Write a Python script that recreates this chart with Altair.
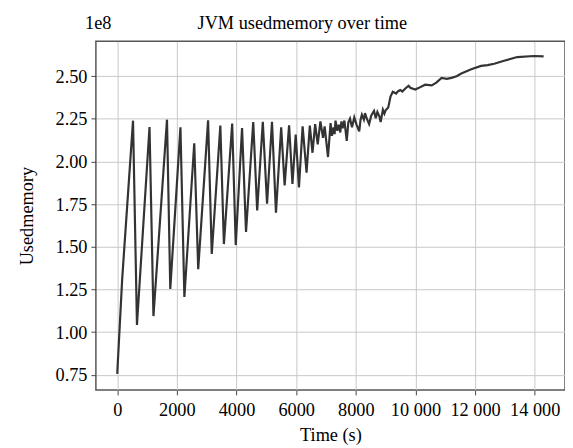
import altair as alt
import pandas as pd

# Time (s) and used memory (in units of 1e8 bytes)
time_s = [0, 166, 530, 662, 1083, 1215, 1669, 1779, 2120, 2252, 2583, 2716, 3047, 3170,
          3458, 3577, 3855, 3974, 4186, 4319, 4561, 4693, 4882, 5024, 5190, 5323, 5498,
          5614, 5763, 5876, 5985, 6094, 6217, 6349, 6458, 6548, 6637, 6723, 6813, 6902,
          6955, 7068, 7154, 7200, 7253, 7290, 7320, 7380, 7432, 7480, 7518, 7560, 7598,
          7618, 7697, 7750, 7806, 7873, 7949, 8028, 8115, 8160, 8204, 8270, 8310, 8360,
          8446, 8520, 8611, 8668, 8724, 8790, 8833, 8909, 8960, 8999, 9088, 9164, 9241,
          9353, 9420, 9496, 9560, 9661, 9771, 9827, 9993, 10100, 10324, 10546, 10700,
          10877, 11050, 11208, 11380, 11539, 11870, 12201, 12420, 12642, 12973, 13414,
          13967, 14298]
used_mem = [0.755, 1.31, 2.239, 1.042, 2.202, 1.094, 2.245, 1.253, 2.200, 1.206, 2.107, 1.369,
            2.241, 1.458, 2.210, 1.516, 2.222, 1.510, 2.196, 1.587, 2.231, 1.713, 2.233, 1.752,
            2.233, 1.700, 2.200, 1.860, 2.212, 1.868, 2.158, 1.848, 2.206, 1.935, 2.210, 2.051,
            2.219, 2.100, 2.235, 2.138, 2.206, 2.026, 2.225, 2.150, 2.200, 2.160, 2.239, 2.180,
            2.215, 2.170, 2.235, 2.195, 2.225, 2.240, 2.120, 2.230, 2.251, 2.200, 2.258, 2.215,
            2.176, 2.245, 2.274, 2.245, 2.283, 2.255, 2.219, 2.270, 2.297, 2.254, 2.290, 2.265,
            2.231, 2.303, 2.280, 2.300, 2.316, 2.380, 2.409, 2.398, 2.412, 2.419, 2.410, 2.428,
            2.444, 2.432, 2.422, 2.430, 2.450, 2.446, 2.462, 2.490, 2.484, 2.490, 2.500, 2.515,
            2.540, 2.560, 2.565, 2.573, 2.590, 2.612, 2.618, 2.616]

x_ticks = [0, 2000, 4000, 6000, 8000, 10000, 12000, 14000]
y_ticks = [0.75, 1.00, 1.25, 1.50, 1.75, 2.00, 2.25, 2.50]

title_text = "JVM usedmemory over time"
offset_text = "1e8"

df = pd.DataFrame({"t": time_s, "m": used_mem})

FONT = "Liberation Serif"

line = alt.Chart(df).mark_line(color="#333333", strokeWidth=2.2).encode(
    x=alt.X("t:Q",
            scale=alt.Scale(domain=[-715, 15015], nice=False, zero=False),
            axis=alt.Axis(values=x_ticks, title="Time (s)",
                          labelExpr="datum.value >= 10000 ? replace(format(datum.value, ','), ',', ' ') : format(datum.value, 'd')",
                          labelPadding=6, titlePadding=7)),
    y=alt.Y("m:Q",
            scale=alt.Scale(domain=[0.661, 2.704], nice=False, zero=False),
            axis=alt.Axis(values=y_ticks, format=".2f", title="Usedmemory",
                          labelPadding=4, titlePadding=19)),
)

title = alt.Chart(pd.DataFrame({"s": [title_text]})).mark_text(
    font=FONT, fontSize=18.5, color="black", align="center", baseline="alphabetic"
).encode(text="s:N", x=alt.value(209), y=alt.value(-13))

offset = alt.Chart(pd.DataFrame({"s": [offset_text]})).mark_text(
    font=FONT, fontSize=18.5, color="black", align="left", baseline="alphabetic"
).encode(text="s:N", x=alt.value(-11), y=alt.value(-13))

chart = alt.layer(line, title, offset).properties(
    width=475, height=353,
    autosize=alt.AutoSizeParams(type="none"),
    padding={"left": 89, "top": 31, "right": 0, "bottom": 56},
    background="white",
).configure_view(
    stroke="#555555", strokeWidth=1.5
).configure_axis(
    labelFont=FONT, titleFont=FONT, labelFontSize=18.5, titleFontSize=18.5,
    labelColor="black", titleColor="black", titleFontWeight="normal",
    grid=True, gridColor="#c8c8c8", gridWidth=1,
    domain=False, ticks=True, tickSize=5, tickColor="#444444", tickWidth=1,
)

chart.save("out.html", embed_options={"renderer": "svg", "actions": False})
